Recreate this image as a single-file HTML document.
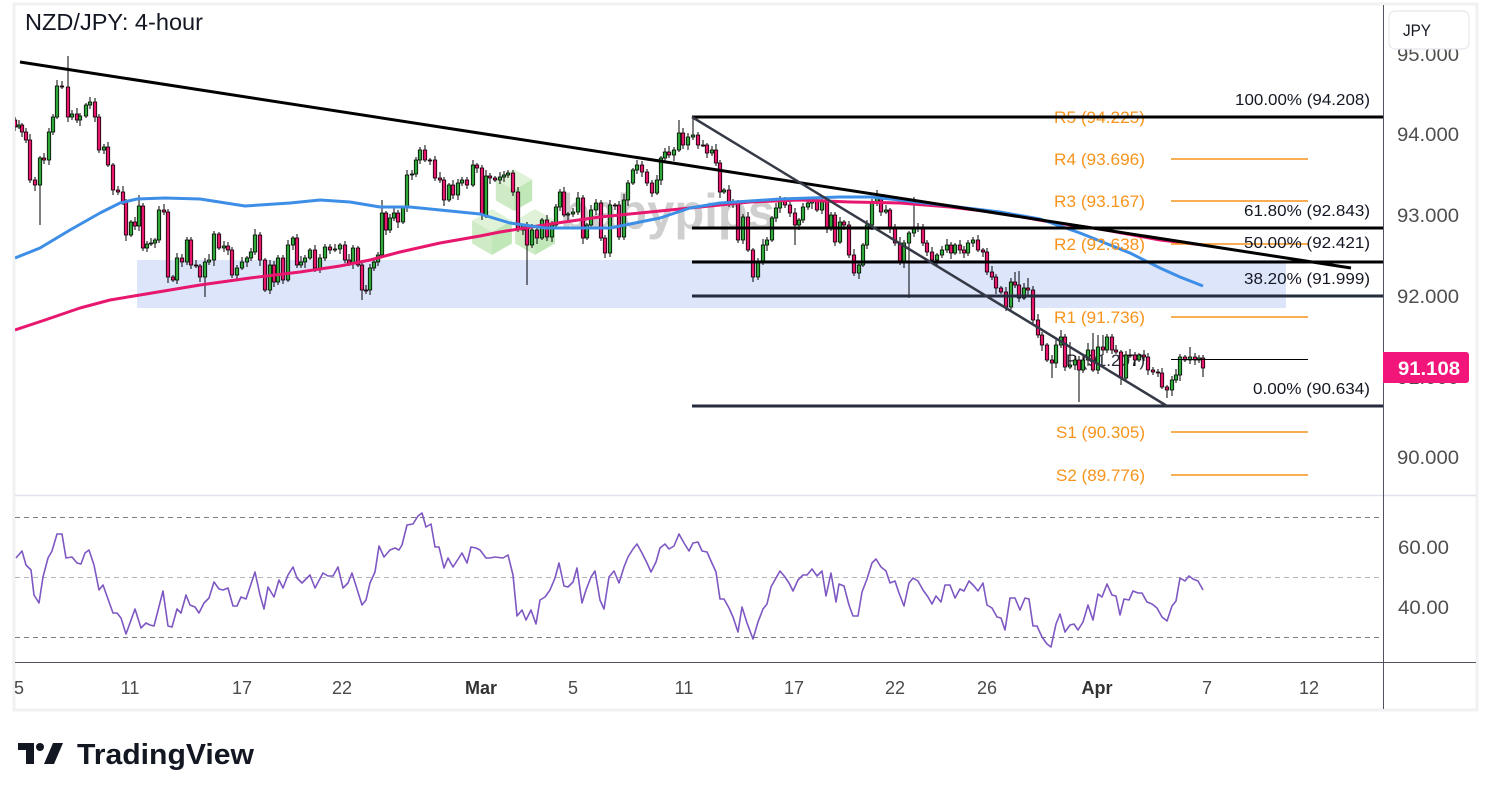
<!DOCTYPE html>
<html><head><meta charset="utf-8">
<style>
html,body{margin:0;padding:0;background:#fff;overflow:hidden;}
svg{display:block;}
text{font-family:"Liberation Sans","DejaVu Sans",sans-serif;}
</style></head>
<body>
<svg width="1491" height="800" viewBox="0 0 1491 800" xmlns="http://www.w3.org/2000/svg">
<defs>
<clipPath id="pane"><rect x="15" y="5" width="1368" height="490"/></clipPath>
<clipPath id="tax"><rect x="15" y="663" width="1368" height="46"/></clipPath>
</defs>
<rect width="1491" height="800" fill="#fff"/>
<rect x="14" y="4" width="1463" height="706" fill="#fff" stroke="#f0f1f3" stroke-width="3"/>

<g clip-path="url(#pane)">
<rect x="137" y="260" width="1149" height="48" fill="#dde5fb"/>

<g opacity="0.75">
  <g transform="translate(514,190)">
    <polygon points="0,-21 18.2,-10.5 0,0 -18.2,-10.5" fill="#d6efcd"/>
    <polygon points="-18.2,-10.5 0,0 0,21 -18.2,10.5" fill="#bfe5b2"/>
    <polygon points="18.2,-10.5 0,0 0,21 18.2,10.5" fill="#ace0a0"/>
  </g>
  <g transform="translate(492,232)">
    <polygon points="0,-23 19.9,-11.5 0,0 -19.9,-11.5" fill="#d6efcd"/>
    <polygon points="-19.9,-11.5 0,0 0,23 -19.9,11.5" fill="#bfe5b2"/>
    <polygon points="19.9,-11.5 0,0 0,23 19.9,11.5" fill="#ace0a0"/>
  </g>
  <g transform="translate(535,232)">
    <polygon points="0,-23 19.9,-11.5 0,0 -19.9,-11.5" fill="#d6efcd"/>
    <polygon points="-19.9,-11.5 0,0 0,23 -19.9,11.5" fill="#bfe5b2"/>
    <polygon points="19.9,-11.5 0,0 0,23 19.9,11.5" fill="#ace0a0"/>
  </g>
</g>
<text x="560" y="229" font-size="50" font-weight="bold" fill="#cfcfcf" textLength="215" lengthAdjust="spacingAndGlyphs">babypips</text>

<text x="1066" y="366" font-size="17" fill="#2a2e39" textLength="79" lengthAdjust="spacingAndGlyphs">P (91.207)</text>

<!-- candles: wicks -->
<path fill="none" stroke="#000" stroke-width="1" d="M15 117V131M19 120V129M22 123V137M26 128V143M30 134V183M35 177V191M40 156V225M44 153V164M49 128V165M53 114V135M57 80V119M62 81V89M68 56V122M72 110V120M77 108V123M80 113V126M86 103V118M90 97V109M95 98V122M99 114V153M104 144V154M108 142V167M113 163V195M118 186V195M123 186V205M126 199V241M131 220V237M135 217V230M139 195V231M143 203V251M147 241V252M151 238V246M155 238V248M159 206V243M164 204V215M168 209V283M173 275V282M177 253V284M182 254V267M187 237V265M191 237V269M196 260V268M200 264V282M205 258V297M209 254V265M214 231V266M219 232V250M224 241V252M228 242V255M232 247V278M237 265V279M242 257V270M247 256V267M251 248V261M255 229V255M260 232V266M265 258V292M270 260V294M274 261V287M278 255V285M283 255V284M288 240V282M293 236V250M297 234V268M301 256V268M305 255V268M310 248V260M315 245V272M320 254V273M325 244V261M330 244V254M335 244V252M340 243V254M345 241V263M349 254V266M353 245V269M358 246V267M362 262V300M366 285V294M370 264V295M374 259V271M378 252V266M382 200V257M386 211V235M390 214V233M394 207V221M398 210V228M403 206V224M407 170V212M412 170V180M416 157V177M420 147V164M425 145V162M430 158V165M435 156V181M440 172V183M444 177V206M449 183V202M453 180V199M458 179V200M462 177V186M467 177V189M473 160V187M477 163V173M482 165V220M486 170V218M490 173V184M495 176V182M500 172V184M504 171V182M508 170V178M513 170V196M518 187V232M523 224V235M527 222V285M532 224V248M537 227V244M542 218V240M547 215V241M552 221V242M556 204V228M560 189V211M564 187V217M568 212V220M573 208V217M578 192V215M583 195V244M587 223V240M591 205V229M596 199V215M601 200V241M605 235V258M610 200V257M615 203V210M619 201V240M624 194V240M628 180V206M633 168V185M637 160V174M642 161V177M647 169V186M652 180V197M657 175V195M661 156V185M665 148V161M669 146V158M674 147V161M679 120V152M683 128V149M688 133V150M693 117V140M698 132V149M703 140V147M707 143V158M712 146V156M716 144V166M720 160V198M724 188V194M729 185V207M733 199V208M738 200V243M743 214V244M748 212V252M753 248V282M758 258V280M763 239V265M767 237V251M772 216V242M776 203V222M780 196V213M785 197V208M790 202V217M795 208V245M799 218V230M803 203V223M808 197V210M812 197V209M817 198V212M822 197V214M827 198V233M831 212V231M835 212V246M840 217V244M844 220V230M849 221V258M854 249V276M859 262V279M863 243V267M867 220V249M872 199V230M877 190V206M881 194V216M886 205V214M890 208V233M895 224V246M900 237V265M904 240V268M909 231V298M914 197V237M918 223V232M923 224V246M927 240V256M932 247V262M937 253V265M942 246V258M947 239V253M951 242V259M955 243V255M960 240V254M964 246V258M968 240V256M973 237V247M978 235V252M983 248V257M987 248V275M992 266V280M996 274V294M1001 286V294M1006 287V311M1011 278V312M1015 272V288M1019 271V302M1024 283V300M1028 278V295M1033 286V323M1038 314V338M1042 332V351M1047 343V362M1052 355V378M1056 338V368M1061 330V348M1065 334V371M1070 342V369M1075 356V370M1079 356V402M1083 354V373M1088 343V366M1093 333V372M1098 335V374M1103 335V355M1107 334V353M1112 334V354M1116 345V354M1121 350V385M1126 351V381M1130 349V358M1135 352V366M1139 353V362M1144 350V361M1148 353V375M1153 367V375M1158 369V377M1162 368V389M1167 385V398M1172 376V396M1176 369V383M1180 354V381M1185 355V362M1190 347V364M1195 353V365M1199 355V363M1203 355V377"/>

<!-- candles: red bodies -->
<path fill="#e8176e" stroke="#000" stroke-width="0.8" d="M13.3 120h3.4v7h-3.4zM20.3 125h3.4v7h-3.4zM24.3 132h3.4v8h-3.4zM28.3 140h3.4v40h-3.4zM33.3 180h3.4v5h-3.4zM42.3 158h3.4v2h-3.4zM60.3 86h3.4v1h-3.4zM66.3 87h3.4v30h-3.4zM75.3 114h3.4v6h-3.4zM93.3 102h3.4v15h-3.4zM97.3 117h3.4v33h-3.4zM106.3 147h3.4v18h-3.4zM111.3 165h3.4v25h-3.4zM116.3 190h3.4v2h-3.4zM121.3 192h3.4v10h-3.4zM124.3 202h3.4v33h-3.4zM133.3 222h3.4v4h-3.4zM141.3 206h3.4v42h-3.4zM162.3 210h3.4v2h-3.4zM166.3 212h3.4v65h-3.4zM171.3 277h3.4v3h-3.4zM180.3 258h3.4v4h-3.4zM189.3 240h3.4v25h-3.4zM194.3 265h3.4v1h-3.4zM198.3 266h3.4v11h-3.4zM217.3 234h3.4v14h-3.4zM226.3 246h3.4v4h-3.4zM230.3 250h3.4v25h-3.4zM258.3 235h3.4v25h-3.4zM263.3 260h3.4v30h-3.4zM272.3 265h3.4v17h-3.4zM281.3 258h3.4v22h-3.4zM295.3 238h3.4v27h-3.4zM313.3 250h3.4v18h-3.4zM328.3 247h3.4v3h-3.4zM343.3 245h3.4v15h-3.4zM347.3 260h3.4v3h-3.4zM356.3 248h3.4v17h-3.4zM360.3 265h3.4v25h-3.4zM364.3 290h3.4v1h-3.4zM384.3 213h3.4v17h-3.4zM396.3 213h3.4v9h-3.4zM423.3 150h3.4v10h-3.4zM428.3 160h3.4v1h-3.4zM433.3 160h3.4v18h-3.4zM438.3 178h3.4v2h-3.4zM442.3 180h3.4v20h-3.4zM451.3 185h3.4v10h-3.4zM465.3 180h3.4v5h-3.4zM475.3 165h3.4v3h-3.4zM480.3 168h3.4v47h-3.4zM488.3 176h3.4v2h-3.4zM493.3 178h3.4v2h-3.4zM511.3 173h3.4v19h-3.4zM516.3 192h3.4v38h-3.4zM525.3 226h3.4v19h-3.4zM535.3 230h3.4v8h-3.4zM545.3 220h3.4v17h-3.4zM562.3 192h3.4v23h-3.4zM581.3 198h3.4v40h-3.4zM599.3 203h3.4v35h-3.4zM603.3 238h3.4v15h-3.4zM613.3 205h3.4v1h-3.4zM617.3 205h3.4v32h-3.4zM640.3 165h3.4v7h-3.4zM645.3 172h3.4v11h-3.4zM650.3 183h3.4v10h-3.4zM667.3 152h3.4v3h-3.4zM681.3 133h3.4v12h-3.4zM696.3 135h3.4v10h-3.4zM701.3 145h3.4v1h-3.4zM705.3 145h3.4v8h-3.4zM714.3 150h3.4v13h-3.4zM718.3 163h3.4v29h-3.4zM727.3 190h3.4v13h-3.4zM731.3 203h3.4v1h-3.4zM736.3 203h3.4v37h-3.4zM746.3 217h3.4v33h-3.4zM751.3 250h3.4v27h-3.4zM783.3 200h3.4v5h-3.4zM788.3 205h3.4v8h-3.4zM793.3 213h3.4v12h-3.4zM815.3 200h3.4v10h-3.4zM825.3 202h3.4v26h-3.4zM833.3 215h3.4v27h-3.4zM842.3 222h3.4v3h-3.4zM847.3 225h3.4v30h-3.4zM852.3 255h3.4v18h-3.4zM879.3 197h3.4v15h-3.4zM888.3 210h3.4v18h-3.4zM893.3 228h3.4v15h-3.4zM898.3 243h3.4v19h-3.4zM916.3 227h3.4v1h-3.4zM921.3 227h3.4v16h-3.4zM925.3 243h3.4v9h-3.4zM930.3 252h3.4v8h-3.4zM949.3 245h3.4v8h-3.4zM958.3 245h3.4v5h-3.4zM962.3 250h3.4v3h-3.4zM976.3 240h3.4v10h-3.4zM981.3 250h3.4v2h-3.4zM985.3 252h3.4v20h-3.4zM990.3 272h3.4v5h-3.4zM994.3 277h3.4v11h-3.4zM999.3 288h3.4v4h-3.4zM1004.3 292h3.4v15h-3.4zM1013.3 282h3.4v3h-3.4zM1017.3 285h3.4v13h-3.4zM1026.3 288h3.4v2h-3.4zM1031.3 290h3.4v30h-3.4zM1036.3 320h3.4v15h-3.4zM1040.3 335h3.4v10h-3.4zM1045.3 345h3.4v15h-3.4zM1050.3 360h3.4v3h-3.4zM1063.3 337h3.4v30h-3.4zM1077.3 360h3.4v10h-3.4zM1091.3 350h3.4v20h-3.4zM1101.3 347h3.4v3h-3.4zM1110.3 337h3.4v13h-3.4zM1114.3 350h3.4v2h-3.4zM1119.3 352h3.4v26h-3.4zM1128.3 355h3.4v1h-3.4zM1133.3 355h3.4v5h-3.4zM1142.3 355h3.4v2h-3.4zM1146.3 357h3.4v13h-3.4zM1151.3 370h3.4v2h-3.4zM1156.3 372h3.4v1h-3.4zM1160.3 373h3.4v14h-3.4zM1165.3 387h3.4v3h-3.4zM1183.3 357h3.4v3h-3.4zM1193.3 357h3.4v3h-3.4zM1201.3 358h3.4v10h-3.4z"/>

<!-- candles: green bodies -->
<path fill="#2fa83a" stroke="#000" stroke-width="0.8" d="M17.3 125h3.4v2h-3.4zM38.3 158h3.4v27h-3.4zM47.3 132h3.4v28h-3.4zM51.3 117h3.4v15h-3.4zM55.3 86h3.4v31h-3.4zM70.3 114h3.4v3h-3.4zM78.3 116h3.4v4h-3.4zM84.3 105h3.4v11h-3.4zM88.3 102h3.4v3h-3.4zM102.3 147h3.4v3h-3.4zM129.3 222h3.4v13h-3.4zM137.3 206h3.4v20h-3.4zM145.3 244h3.4v4h-3.4zM149.3 243h3.4v1h-3.4zM153.3 240h3.4v3h-3.4zM157.3 210h3.4v30h-3.4zM175.3 258h3.4v22h-3.4zM185.3 240h3.4v22h-3.4zM203.3 262h3.4v15h-3.4zM207.3 260h3.4v2h-3.4zM212.3 234h3.4v26h-3.4zM222.3 246h3.4v2h-3.4zM235.3 268h3.4v7h-3.4zM240.3 262h3.4v6h-3.4zM245.3 258h3.4v4h-3.4zM249.3 252h3.4v6h-3.4zM253.3 235h3.4v17h-3.4zM268.3 265h3.4v25h-3.4zM276.3 258h3.4v24h-3.4zM286.3 245h3.4v35h-3.4zM291.3 238h3.4v7h-3.4zM299.3 262h3.4v3h-3.4zM303.3 258h3.4v4h-3.4zM308.3 250h3.4v8h-3.4zM318.3 258h3.4v10h-3.4zM323.3 247h3.4v11h-3.4zM333.3 249h3.4v1h-3.4zM338.3 245h3.4v4h-3.4zM351.3 248h3.4v15h-3.4zM368.3 268h3.4v22h-3.4zM372.3 262h3.4v6h-3.4zM376.3 255h3.4v7h-3.4zM380.3 213h3.4v42h-3.4zM388.3 218h3.4v12h-3.4zM392.3 213h3.4v5h-3.4zM401.3 208h3.4v14h-3.4zM405.3 175h3.4v33h-3.4zM410.3 174h3.4v1h-3.4zM414.3 160h3.4v14h-3.4zM418.3 150h3.4v10h-3.4zM447.3 185h3.4v15h-3.4zM456.3 183h3.4v12h-3.4zM460.3 180h3.4v3h-3.4zM471.3 165h3.4v20h-3.4zM484.3 176h3.4v39h-3.4zM498.3 177h3.4v3h-3.4zM502.3 175h3.4v2h-3.4zM506.3 173h3.4v2h-3.4zM521.3 226h3.4v4h-3.4zM530.3 230h3.4v15h-3.4zM540.3 220h3.4v18h-3.4zM550.3 225h3.4v12h-3.4zM554.3 207h3.4v18h-3.4zM558.3 192h3.4v15h-3.4zM566.3 214h3.4v1h-3.4zM571.3 212h3.4v2h-3.4zM576.3 198h3.4v14h-3.4zM585.3 225h3.4v13h-3.4zM589.3 210h3.4v15h-3.4zM594.3 203h3.4v7h-3.4zM608.3 205h3.4v48h-3.4zM622.3 200h3.4v37h-3.4zM626.3 183h3.4v17h-3.4zM631.3 170h3.4v13h-3.4zM635.3 165h3.4v5h-3.4zM655.3 180h3.4v13h-3.4zM659.3 158h3.4v22h-3.4zM663.3 152h3.4v6h-3.4zM672.3 150h3.4v5h-3.4zM677.3 133h3.4v17h-3.4zM686.3 137h3.4v8h-3.4zM691.3 135h3.4v2h-3.4zM710.3 150h3.4v3h-3.4zM722.3 190h3.4v2h-3.4zM741.3 217h3.4v23h-3.4zM756.3 262h3.4v15h-3.4zM761.3 245h3.4v17h-3.4zM765.3 240h3.4v5h-3.4zM770.3 218h3.4v22h-3.4zM774.3 208h3.4v10h-3.4zM778.3 200h3.4v8h-3.4zM797.3 220h3.4v5h-3.4zM801.3 207h3.4v13h-3.4zM806.3 203h3.4v4h-3.4zM810.3 200h3.4v3h-3.4zM820.3 202h3.4v8h-3.4zM829.3 215h3.4v13h-3.4zM838.3 222h3.4v20h-3.4zM857.3 265h3.4v8h-3.4zM861.3 245h3.4v20h-3.4zM865.3 225h3.4v20h-3.4zM870.3 203h3.4v22h-3.4zM875.3 197h3.4v6h-3.4zM884.3 210h3.4v2h-3.4zM902.3 243h3.4v19h-3.4zM907.3 233h3.4v10h-3.4zM912.3 227h3.4v6h-3.4zM935.3 255h3.4v5h-3.4zM940.3 250h3.4v5h-3.4zM945.3 245h3.4v5h-3.4zM953.3 245h3.4v8h-3.4zM966.3 243h3.4v10h-3.4zM971.3 240h3.4v3h-3.4zM1009.3 282h3.4v25h-3.4zM1022.3 288h3.4v10h-3.4zM1054.3 345h3.4v18h-3.4zM1059.3 337h3.4v8h-3.4zM1068.3 365h3.4v2h-3.4zM1073.3 360h3.4v5h-3.4zM1081.3 360h3.4v10h-3.4zM1086.3 350h3.4v10h-3.4zM1096.3 347h3.4v23h-3.4zM1105.3 337h3.4v13h-3.4zM1124.3 355h3.4v23h-3.4zM1137.3 355h3.4v5h-3.4zM1170.3 380h3.4v10h-3.4zM1174.3 375h3.4v5h-3.4zM1178.3 357h3.4v18h-3.4zM1188.3 357h3.4v3h-3.4zM1197.3 358h3.4v2h-3.4z"/>

<!-- EMAs -->
<polyline fill="none" stroke="#e8176e" stroke-width="3" stroke-linejoin="round" points="15,330 45,320 80,308 110,300 140,295 200,285 250,278 300,272 340,266 370,260 400,252 440,243 480,236 500,232 550,224 600,217 650,212 680,209 720,205 750,202 800,200 850,202 900,203 950,207 1000,213 1050,222 1100,229 1160,240 1203,245"/>
<polyline fill="none" stroke="#3d8ee6" stroke-width="3" stroke-linejoin="round" points="15,258 40,248 70,230 100,213 120,203 137,199 165,198 200,199 245,206 290,203 320,200 350,202 380,207 410,207 440,210 470,213 480,214 510,223 545,228 575,228 610,228 640,222 660,218 690,208 720,203 780,199 840,197 870,197 900,200 950,206 1000,212 1040,219 1080,233 1130,253 1160,268 1180,277 1203,286"/>

<g stroke="#f7941d" stroke-width="1.5">
<line x1="1171" x2="1308" y1="117" y2="117"/>
<line x1="1171" x2="1308" y1="159" y2="159"/>
<line x1="1171" x2="1308" y1="201" y2="201"/>
<line x1="1171" x2="1308" y1="244" y2="244"/>
<line x1="1171" x2="1308" y1="317" y2="317"/>
<line x1="1171" x2="1308" y1="432" y2="432"/>
<line x1="1171" x2="1308" y1="475" y2="475"/>
</g>
<line x1="1171" x2="1308" y1="359.5" y2="359.5" stroke="#000" stroke-width="1"/>

<g font-size="17" fill="#f7941d">
<text x="1054" y="123" textLength="91" lengthAdjust="spacingAndGlyphs">R5 (94.225)</text>
<text x="1054" y="165" textLength="91" lengthAdjust="spacingAndGlyphs">R4 (93.696)</text>
<text x="1054" y="207" textLength="91" lengthAdjust="spacingAndGlyphs">R3 (93.167)</text>
<text x="1054" y="250" textLength="91" lengthAdjust="spacingAndGlyphs">R2 (92.638)</text>
<text x="1054" y="323" textLength="91" lengthAdjust="spacingAndGlyphs">R1 (91.736)</text>
<text x="1056" y="438" textLength="89" lengthAdjust="spacingAndGlyphs">S1 (90.305)</text>
<text x="1056" y="481" textLength="89" lengthAdjust="spacingAndGlyphs">S2 (89.776)</text>
</g>

<line x1="692" x2="1383" y1="117" y2="117" stroke="#000" stroke-width="3"/>
<line x1="692" x2="1383" y1="228" y2="228" stroke="#000" stroke-width="3"/>
<line x1="692" x2="1383" y1="262" y2="262" stroke="#000" stroke-width="3"/>
<line x1="692" x2="1383" y1="296" y2="296" stroke="#262b3d" stroke-width="3"/>
<line x1="692" x2="1383" y1="406" y2="406" stroke="#262b3d" stroke-width="3"/>

<line x1="20" y1="62" x2="1351" y2="268" stroke="#000" stroke-width="3"/>
<line x1="692" y1="117" x2="1167" y2="406" stroke="#363a47" stroke-width="2.5"/>

<g font-size="16" fill="#131722">
<text x="1235" y="105" textLength="135" lengthAdjust="spacingAndGlyphs">100.00% (94.208)</text>
<text x="1244" y="216" textLength="126" lengthAdjust="spacingAndGlyphs">61.80% (92.843)</text>
<text x="1244" y="248" textLength="126" lengthAdjust="spacingAndGlyphs">50.00% (92.421)</text>
<text x="1244" y="284" textLength="126" lengthAdjust="spacingAndGlyphs">38.20% (91.999)</text>
<text x="1253" y="394" textLength="117" lengthAdjust="spacingAndGlyphs">0.00% (90.634)</text>
</g>
</g>

<text x="25" y="30" font-size="23" fill="#131722" textLength="178" lengthAdjust="spacingAndGlyphs">NZD/JPY: 4-hour</text>

<line x1="15" x2="1476" y1="495.5" y2="495.5" stroke="#e0e3eb" stroke-width="1.5"/>
<line x1="15" x2="1383" y1="517.5" y2="517.5" stroke="#787b86" stroke-width="1" stroke-dasharray="5,4"/>
<line x1="15" x2="1383" y1="577.5" y2="577.5" stroke="#b2b5be" stroke-width="1" stroke-dasharray="5,4"/>
<line x1="15" x2="1383" y1="637.5" y2="637.5" stroke="#787b86" stroke-width="1" stroke-dasharray="5,4"/>
<polyline fill="none" stroke="#7e57c2" stroke-width="1.6" stroke-linejoin="round" points="16,558 22,551 26,565 31,570 34,595 39,603 43,577 48,558 52,551 57,534 62,534 66,558 72,557 77,563 81,564 85,553 89,550 94,565 99,590 103,585 113,613 117,613 121,618 126,634 135,609 141,628 146,623 150,625 154,626 163,591 168,626 172,627 177,609 181,613 186,595 190,605 195,607 199,613 204,603 209,598 214,582 219,589 223,590 228,588 233,606 237,606 241,597 246,599 255,572 260,595 264,609 268,587 274,597 279,580 283,588 288,575 293,567 297,578 302,583 310,575 315,588 323,573 328,576 333,576 338,567 343,588 348,583 352,573 362,605 366,600 370,583 375,572 379,546 384,557 390,550 395,548 399,550 402,545 407,525 413,524 418,516 422,513 426,527 431,524 435,547 439,547 444,568 448,558 453,567 462,553 467,563 471,547 476,548 480,550 486,558 490,558 495,557 503,558 508,555 513,575 517,616 522,610 526,620 531,610 536,624 540,600 545,597 550,590 555,578 559,563 564,586 568,587 573,582 577,568 582,603 586,590 591,577 595,571 600,600 604,609 609,577 614,571 619,583 624,567 628,557 633,549 637,544 642,553 647,563 651,572 656,562 660,548 665,544 669,549 674,546 679,534 684,543 689,551 693,543 698,542 702,551 707,552 711,561 716,572 720,599 724,599 729,608 733,617 738,632 742,607 747,623 753,639 758,622 763,609 767,604 771,587 776,578 780,571 785,577 789,583 793,591 798,580 803,575 807,575 812,569 817,576 822,571 826,596 831,573 836,602 839,584 844,586 849,605 853,616 858,616 862,592 867,579 872,563 876,559 881,567 886,571 890,583 895,581 899,593 904,606 909,583 913,578 918,581 923,590 928,597 932,604 936,596 941,602 945,585 950,585 955,598 960,589 964,591 969,581 974,586 978,591 983,583 987,605 992,608 997,617 1001,618 1005,630 1010,598 1015,598 1020,610 1025,598 1029,599 1033,626 1037,626 1042,637 1047,644 1051,647 1056,624 1060,614 1065,632 1070,625 1074,624 1078,630 1083,622 1088,605 1093,620 1098,594 1102,597 1107,584 1112,595 1116,596 1120,615 1124,599 1129,600 1133,591 1138,593 1142,593 1147,602 1152,604 1157,608 1162,617 1167,621 1172,606 1176,601 1180,578 1185,581 1189,576 1193,579 1198,581 1203,590"/>

<line x1="15" x2="1476" y1="662.5" y2="662.5" stroke="#50535e" stroke-width="1"/>
<line x1="1383.5" x2="1383.5" y1="5" y2="709" stroke="#50535e" stroke-width="1"/>

<g font-size="19" fill="#4f4f4f">
<text x="1397" y="61" textLength="62" lengthAdjust="spacingAndGlyphs">95.000</text>
<text x="1397" y="141" textLength="62" lengthAdjust="spacingAndGlyphs">94.000</text>
<text x="1397" y="222" textLength="62" lengthAdjust="spacingAndGlyphs">93.000</text>
<text x="1397" y="303" textLength="62" lengthAdjust="spacingAndGlyphs">92.000</text>
<text x="1397" y="384" textLength="62" lengthAdjust="spacingAndGlyphs">91.000</text>
<text x="1397" y="464" textLength="62" lengthAdjust="spacingAndGlyphs">90.000</text>
<text x="1398" y="554" textLength="51" lengthAdjust="spacingAndGlyphs">60.00</text>
<text x="1398" y="614" textLength="51" lengthAdjust="spacingAndGlyphs">40.00</text>
</g>
<rect x="1389" y="11" width="80" height="38" rx="6" fill="#fff" stroke="#e6e8ee" stroke-width="1.2"/>
<text x="1403" y="36" font-size="17" fill="#131722" textLength="28" lengthAdjust="spacingAndGlyphs">JPY</text>
<path d="M1383,352 H1466 a3,3 0 0 1 3,3 V380 a3,3 0 0 1 -3,3 H1383 Z" fill="#f2167a"/>
<text x="1398" y="375" font-size="19" font-weight="bold" fill="#fff" textLength="62" lengthAdjust="spacingAndGlyphs">91.108</text>

<g font-size="18" fill="#4a4a4a" text-anchor="middle" clip-path="url(#tax)">
<text x="19" y="694">5</text>
<text x="130" y="694">11</text>
<text x="242" y="694">17</text>
<text x="342" y="694">22</text>
<text x="481" y="694" font-weight="bold" fill="#333">Mar</text>
<text x="573" y="694">5</text>
<text x="684" y="694">11</text>
<text x="794" y="694">17</text>
<text x="895" y="694">22</text>
<text x="987" y="694">26</text>
<text x="1097" y="694" font-weight="bold" fill="#333">Apr</text>
<text x="1207" y="694">7</text>
<text x="1309" y="694">12</text>
</g>

<g fill="#131722">
<rect x="18" y="743" width="16" height="7"/>
<rect x="26" y="743" width="8" height="21"/>
<circle cx="40" cy="747" r="4"/>
<polygon points="44,764 53,743 63,743 54,764"/>
</g>
<text x="77" y="764" font-size="29" font-weight="bold" fill="#131722" textLength="177" lengthAdjust="spacingAndGlyphs">TradingView</text>
</svg>
</body></html>
